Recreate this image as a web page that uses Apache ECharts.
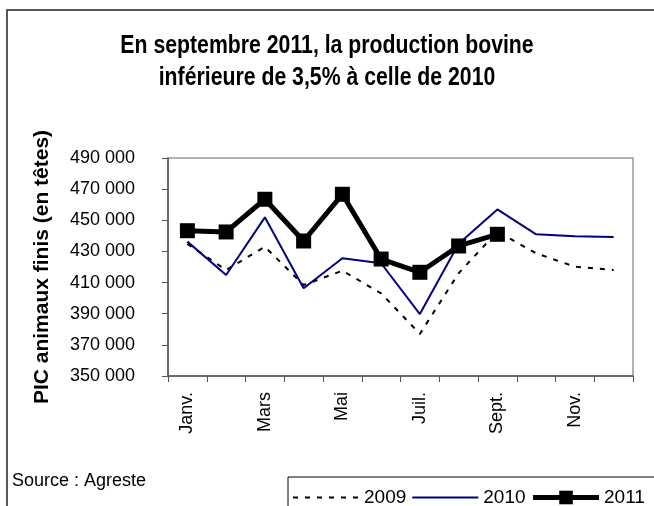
<!DOCTYPE html>
<html>
<head>
<meta charset="utf-8">
<script src="https://cdn.jsdelivr.net/npm/echarts@6/dist/echarts.min.js"></script>
<style>
  html, body { margin: 0; padding: 0; background: #fff; }
  #chart { width: 654px; height: 506px; }
</style>
</head>
<body>
<div id="chart"></div>
<script>
  // mois (une étiquette sur deux affichée)
  var mois = ['Janv.', 'Févr.', 'Mars', 'Avr.', 'Mai', 'Juin', 'Juil.', 'Août', 'Sept.', 'Oct.', 'Nov.', 'Déc.']
  // PIC animaux finis (en têtes)
  var prod2009 = [434800, 418100, 433000, 408400, 417600, 403100, 377000, 416000, 442700, 428800, 420200, 418100]
  var prod2010 = [436300, 414900, 451900, 406300, 425600, 422400, 389800, 435000, 457000, 441000, 439700, 439300]
  var prod2011 = [443300, 442500, 463500, 436700, 466700, 425100, 416600, 433500, 441000]

  var police = 'Liberation Sans, Arial, sans-serif'

  var chart = echarts.init(document.getElementById('chart'))
  chart.setOption({
    animation: false,
    textStyle: { fontFamily: police, color: '#000' },
    /*  titre (police étroite simulée), cadre et source */
    graphic: [{
      type: 'text',
      x: 327,
      y: 30,
      scaleX: 0.85,
      style: {
        text: 'En septembre 2011, la production bovine\ninférieure de 3,5% à celle de 2010',
        align: 'center',
        verticalAlign: 'top',
        font: 'bold 25px Liberation Sans',
        lineHeight: 32,
        fill: '#000'
      }
    }, {
      type: 'rect',
      shape: { x: 7, y: 10, width: 660, height: 510 },
      style: { fill: 'none', stroke: '#222', lineWidth: 1.5 }
    }, {
      type: 'text',
      left: 12,
      top: 472,
      style: { text: 'Source : Agreste', fontSize: 18, fontFamily: police, fill: '#000' }
    }],
    legend: {
      left: 288,
      top: 477,
      width: 400,
      padding: [11, 10, 10, 4],
      itemGap: 5,
      itemWidth: 66,
      itemHeight: 17,
      borderColor: '#000',
      borderWidth: 1,
      borderRadius: 0,
      textStyle: { fontSize: 19, fontFamily: police, color: '#000' },
      data: [
        { name: '2009', itemStyle: { opacity: 0 } },
        { name: '2010', itemStyle: { opacity: 0 } },
        { name: '2011', lineStyle: { width: 5 } }
      ]
    },
    grid: {
      left: 168,
      top: 158,
      right: 21,
      bottom: 130,
      show: true,
      borderColor: '#999',
      borderWidth: 1.5
    },
    xAxis: {
      type: 'category',
      data: mois,
      boundaryGap: true,
      axisLine: { lineStyle: { color: '#555', width: 1.5 } },
      axisTick: { show: true, inside: false, length: 6, interval: 0, lineStyle: { color: '#555' } },
      axisLabel: {
        interval: 1,
        rotate: 90,
        fontSize: 18,
        color: '#000',
        margin: 16
      }
    },
    yAxis: {
      type: 'value',
      min: 350000,
      max: 490000,
      interval: 20000,
      name: 'PIC animaux finis (en têtes)',
      nameLocation: 'middle',
      nameGap: 115,
      nameTextStyle: { fontSize: 21, fontWeight: 'bold', color: '#000' },
      axisLine: { show: true, lineStyle: { color: '#555', width: 1.5 } },
      axisTick: { show: true, length: 6, lineStyle: { color: '#555' } },
      splitLine: { show: false },
      axisLabel: {
        fontSize: 18,
        color: '#000',
        margin: 33,
        formatter: function (v) {
          return String(v).replace(/\B(?=(\d{3})+(?!\d))/g, ' ')
        }
      }
    },
    series: [{
      name: '2009',
      type: 'line',
      data: prod2009,
      symbol: 'none',
      lineStyle: { color: '#000', width: 2, type: [5, 7] },
      itemStyle: { color: '#000' }
    }, {
      name: '2010',
      type: 'line',
      data: prod2010,
      symbol: 'none',
      lineStyle: { color: '#000080', width: 2 },
      itemStyle: { color: '#000080' }
    }, {
      name: '2011',
      type: 'line',
      data: prod2011,
      symbol: 'rect',
      symbolSize: 15,
      lineStyle: { color: '#000', width: 5 },
      itemStyle: { color: '#000' },
      z: 5
    }]
  })
</script>
</body>
</html>
